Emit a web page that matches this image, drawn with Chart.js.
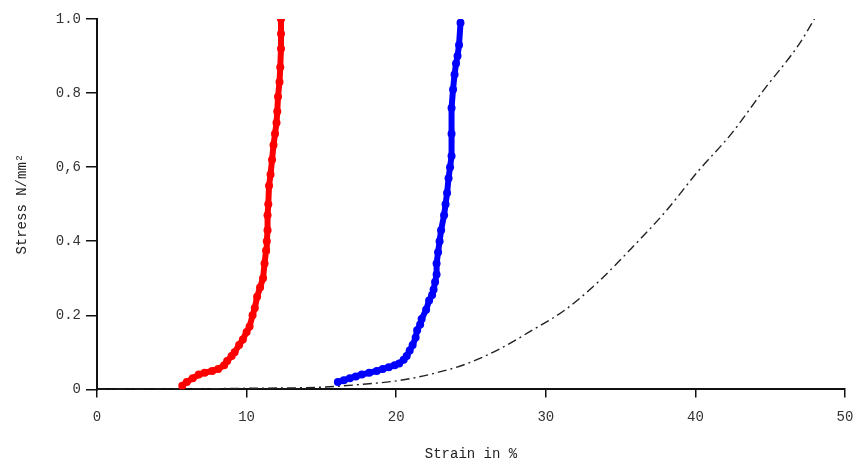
<!DOCTYPE html>
<html>
<head>
<meta charset="utf-8">
<script src="https://cdn.jsdelivr.net/npm/chart.js@4.4.1/dist/chart.umd.min.js"></script>
<style>
html,body{margin:0;padding:0;background:#fff;}
#wrap{width:857px;height:468px;position:relative;}
</style>
</head>
<body>
<div id="wrap"><canvas id="c" width="857" height="468"></canvas></div>
<script>
// Red series (strain %, stress N/mm²)
const redStrain = [5.7,6.0,6.4,6.8,7.2,7.7,8.1,8.5,8.7,9.0,9.2,9.5,9.75,10.0,10.2,10.4,10.55,10.7,10.9,11.1,11.2,11.3,11.35,11.4,11.4,11.45,11.5,11.6,11.7,11.8,11.9,12.0,12.05,12.1,12.2,12.25,12.3,12.3,12.3];
const redStress = [0.01,0.02,0.03,0.04,0.045,0.05,0.055,0.065,0.077,0.09,0.10,0.12,0.135,0.155,0.17,0.20,0.22,0.25,0.275,0.30,0.34,0.375,0.40,0.43,0.47,0.50,0.55,0.58,0.62,0.66,0.69,0.72,0.75,0.79,0.83,0.87,0.92,0.96,1.0];

// Blue series
const blueStrain = [16.1,16.5,16.9,17.3,17.7,18.2,18.7,19.1,19.5,19.9,20.2,20.5,20.7,20.9,21.1,21.3,21.4,21.6,21.7,22.0,22.2,22.4,22.5,22.6,22.7,22.7,22.8,22.9,23.0,23.2,23.3,23.4,23.5,23.6,23.7,23.7,23.7,23.8,23.9,24.0,24.1,24.2,24.3];
const blueStress = [0.02,0.025,0.03,0.035,0.04,0.045,0.05,0.055,0.06,0.065,0.07,0.08,0.09,0.105,0.12,0.14,0.16,0.175,0.19,0.215,0.24,0.255,0.27,0.29,0.31,0.34,0.37,0.40,0.43,0.47,0.50,0.53,0.57,0.60,0.63,0.69,0.76,0.81,0.85,0.88,0.90,0.93,0.99];

// Black dash-dot series
const blackStrain = [0,5,10,15,17.5,20.2,22.4,24.7,26.9,29.1,31.3,33.5,35.7,38.0,40.2,42.4,44.6,46.9,48.1];
const blackStress = [0,0.001,0.003,0.006,0.013,0.024,0.042,0.069,0.109,0.16,0.215,0.29,0.38,0.48,0.59,0.69,0.81,0.93,1.01];

const xTickLabels = ['0','10','20','30','40','50'];
const yTickLabels = ['0','0.2','0.4','0,6','0.8','1.0'];

const FONT = '"Liberation Mono","DejaVu Sans Mono",monospace';

function pts(xs, ys){ return xs.map((x,i)=>({x:x, y:ys[i]})); }

new Chart(document.getElementById('c'), {
  type: 'scatter',
  data: {
    datasets: [
      {
        label: 'red',
        data: pts(redStrain, redStress),
        showLine: true,
        borderColor: '#ff0000',
        borderWidth: 6,
        backgroundColor: '#ff0000',
        pointRadius: 4,
        pointBorderWidth: 0,
        pointBackgroundColor: '#ff0000'
      },
      {
        label: 'blue',
        data: pts(blueStrain, blueStress),
        showLine: true,
        borderColor: '#0000ff',
        borderWidth: 6,
        backgroundColor: '#0000ff',
        pointRadius: 4,
        pointBorderWidth: 0,
        pointBackgroundColor: '#0000ff'
      },
      {
        label: 'black',
        data: pts(blackStrain, blackStress),
        showLine: true,
        borderColor: '#222',
        borderWidth: 1.4,
        borderDash: [9,4,2,4],
        cubicInterpolationMode: 'monotone',
        pointRadius: 0
      }
    ]
  },
  options: {
    responsive: false,
    animation: false,
    events: [],
    layout: { padding: { top: 19, right: 12, left: 0, bottom: 0 } },
    plugins: { legend: { display: false }, tooltip: { enabled: false } },
    scales: {
      x: {
        type: 'linear',
        min: 0, max: 50,
        border: { display: true, color: '#111', width: 2 },
        grid: { display: true, drawOnChartArea: false, drawTicks: true, tickLength: 8, color: '#111', lineWidth: 1.5 },
        ticks: {
          stepSize: 10,
          padding: 11,
          color: '#333',
          font: { family: FONT, size: 14 },
          maxRotation: 0,
          callback: (v, i) => xTickLabels[i]
        },
        title: { display: true, text: 'Strain in %', color: '#222', font: { family: FONT, size: 14 }, padding: { top: 10, bottom: 5 } },
        afterFit: (s) => { s.paddingRight = 0; s.paddingLeft = 0; }
      },
      y: {
        type: 'linear',
        min: 0, max: 1,
        border: { display: true, color: '#111', width: 2 },
        grid: { display: true, drawOnChartArea: false, drawTicks: true, tickLength: 11, color: '#111', lineWidth: 1.5 },
        ticks: {
          stepSize: 0.2,
          padding: 5,
          color: '#333',
          font: { family: FONT, size: 14 },
          callback: (v, i) => yTickLabels[i]
        },
        title: { display: true, text: 'Stress N/mm²', color: '#222', font: { family: FONT, size: 14 }, padding: { top: 14, bottom: 0 } },
        afterFit: (s) => { s.width = 97; }
      }
    }
  }
});
</script>
</body>
</html>
